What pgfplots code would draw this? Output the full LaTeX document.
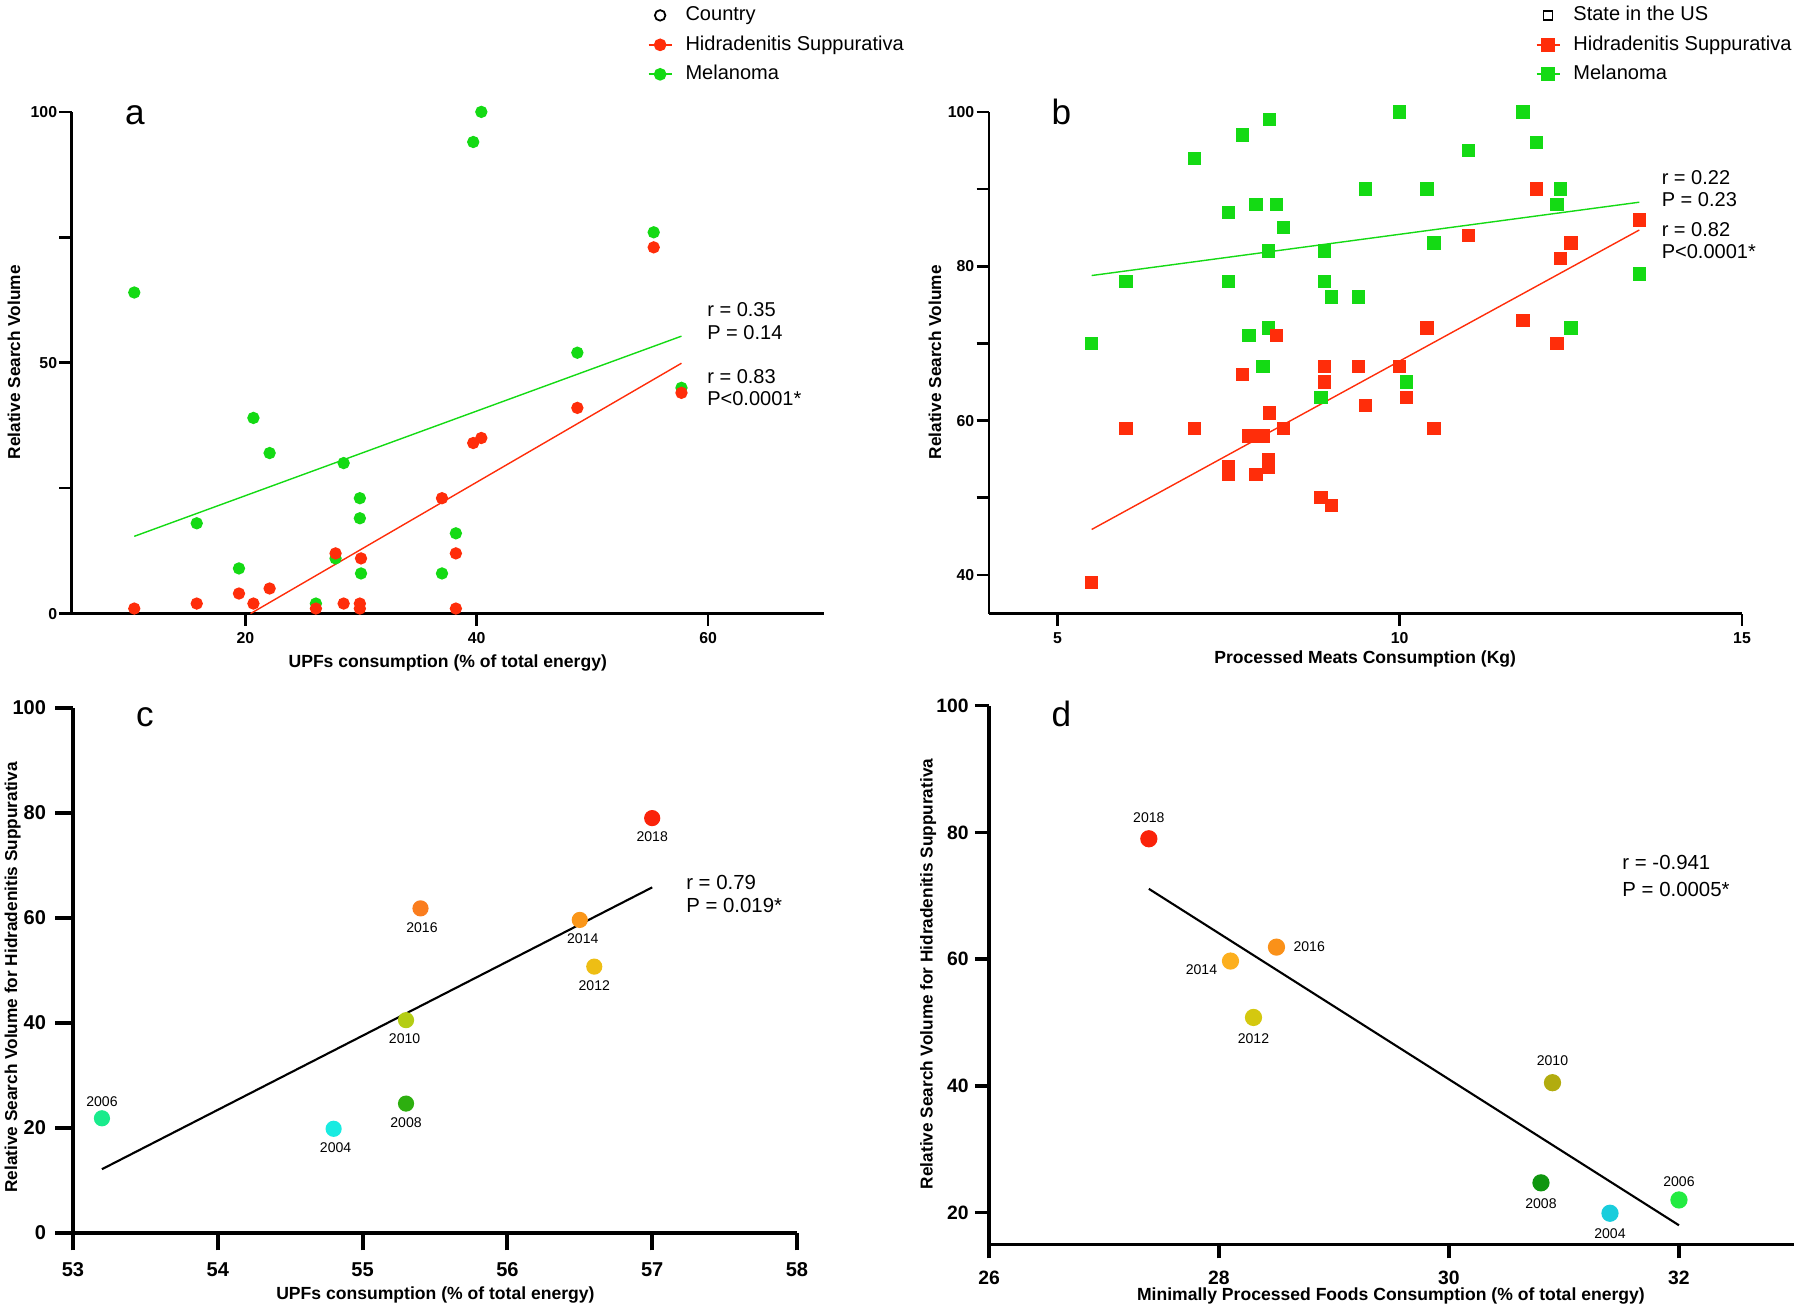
\documentclass[border=0pt]{standalone}
\usepackage{fontspec}
\setmainfont{Liberation Sans}
\usepackage{pgfplots}
\pgfplotsset{compat=1.18}

\definecolor{hsred}{RGB}{255,45,10}
\definecolor{melgreen}{RGB}{20,218,20}
% year colours, panel c
\definecolor{ca}{RGB}{250,35,10}
\definecolor{cb}{RGB}{250,125,30}
\definecolor{cc}{RGB}{250,150,25}
\definecolor{cd}{RGB}{238,190,20}
\definecolor{ce}{RGB}{180,205,20}
\definecolor{cf}{RGB}{45,175,15}
\definecolor{cg}{RGB}{25,235,140}
\definecolor{ch}{RGB}{25,235,225}
% year colours, panel d
\definecolor{da}{RGB}{250,35,10}
\definecolor{db}{RGB}{250,145,25}
\definecolor{dc}{RGB}{252,175,30}
\definecolor{dd}{RGB}{212,200,15}
\definecolor{de}{RGB}{178,172,15}
\definecolor{df}{RGB}{15,150,15}
\definecolor{dg}{RGB}{35,235,65}
\definecolor{dh}{RGB}{25,205,220}

\newcommand{\fs}[1]{\fontsize{#1}{#1}\selectfont}

\pgfplotsset{
  gp/.style={
    scale only axis, anchor=south west,
    axis lines=left, axis line style={-, line width=0.75pt},
    tick align=outside, major tick length=3.5pt,
    tick style={black, line width=0.75pt},
    ticklabel style={font=\fs{4.5}\bfseries},
    /pgf/number format/assume math mode=true,
    legend cell align=left,
    legend image code/.code={
      \draw[mark repeat=2, mark phase=2, #1]
        plot coordinates {(0cm,0cm) (0.115cm,0cm) (0.23cm,0cm)};
    },
  },
  gpbig/.style={gp,
    axis line style={-, line width=1.1pt},
    tick style={black, line width=1.1pt},
    ticklabel style={font=\fs{5.7}\bfseries},
  },
  leg/.style={
    legend style={at={(#1,1.2127)}, anchor=north west, draw=none, fill=none,
      inner sep=0pt, font=\fs{5.7}, row sep=0.105cm,
      nodes={inner sep=0pt, text height=4.2pt, text depth=1.2pt},
      /tikz/every odd column/.append style={column sep=0.13cm}},
  },
}

\begin{document}
\begin{tikzpicture}

% ---------------- a
\begin{axis}[gp, leg=0.765, at={(0.718cm,6.994cm)}, width=7.52cm, height=5.017cm,
  yticklabel style={xshift=0.1cm}, xticklabel style={yshift=0.055cm},
  xmin=5, xmax=70, ymin=0, ymax=100,
  xtick={20,40,60}, ytick={0,25,50,75,100}, yticklabels={0,,50,,100}]
  \addlegendimage{only marks, mark=o, mark size=1.5pt, black, line width=0.5pt}
  \addlegendentry{Country}
  \addlegendimage{hsred, mark=*, mark size=1.55pt, line width=0.5pt}
  \addlegendentry{Hidradenitis Suppurativa}
  \addlegendimage{melgreen, mark=*, mark size=1.55pt, line width=0.5pt}
  \addlegendentry{Melanoma}

  \addplot[melgreen, line width=0.4pt, forget plot] coordinates {(10.4,15.4) (57.7,55.3)};
  \addplot[hsred, line width=0.4pt, forget plot] coordinates {(20.45,0) (57.7,49.9)};

  \addplot[only marks, mark=*, mark size=1.55pt, melgreen, forget plot] coordinates {
    (10.4,64) (15.8,18) (19.45,9) (20.7,39) (22.1,32) (26.1,2) (27.8,11)
    (28.5,30) (29.9,23) (29.9,19) (30.0,8) (37.0,8) (38.2,16) (39.7,94)
    (40.4,100) (48.7,52) (55.3,76) (57.7,45)
  };
  \addplot[only marks, mark=*, mark size=1.55pt, hsred, forget plot] coordinates {
    (10.4,1) (15.8,2) (19.45,4) (20.7,2) (22.1,5) (26.1,1) (27.8,12)
    (28.5,2) (30.0,11) (29.9,2) (29.9,1) (37.0,23) (38.2,12) (38.2,1)
    (39.7,34) (40.4,35) (48.7,41) (55.3,73) (57.7,44)
  };
\end{axis}

% ---------------- b
\begin{axis}[gp, leg=0.725, at={(9.89cm,6.994cm)}, width=7.53cm, height=5.017cm,
  yticklabel style={xshift=0.1cm}, xticklabel style={yshift=0.055cm},
  xmin=4, xmax=15, ymin=35, ymax=100,
  xtick={5,10,15}, ytick={40,50,...,100}, yticklabels={40,,60,,80,,100}]
  \addlegendimage{only marks, mark=square, mark size=1.3pt, black, line width=0.5pt}
  \addlegendentry{State in the US}
  \addlegendimage{hsred, mark=square*, mark size=1.7pt, line width=0.5pt}
  \addlegendentry{Hidradenitis Suppurativa}
  \addlegendimage{melgreen, mark=square*, mark size=1.7pt, line width=0.5pt}
  \addlegendentry{Melanoma}

  \addplot[melgreen, line width=0.4pt, forget plot] coordinates {(5.5,78.8) (13.5,88.3)};
  \addplot[hsred, line width=0.4pt, forget plot] coordinates {(5.5,45.9) (13.5,84.7)};

  \addplot[only marks, mark=square*, mark size=1.7pt, melgreen, forget plot] coordinates {
    (5.5,70) (6.0,78) (7.0,94) (7.5,87) (7.5,78) (7.7,97) (7.8,71) (7.9,88)
    (8.0,67) (8.08,82) (8.08,72) (8.1,99) (8.2,88) (8.3,85) (8.85,63) (8.9,82)
    (8.9,78) (9.0,76) (9.4,76) (9.5,90) (10.0,100) (10.1,65) (10.4,90) (10.5,83)
    (11.0,95) (11.8,100) (12.0,96) (12.3,88) (12.35,90) (12.5,72) (13.5,79)
  };
  \addplot[only marks, mark=square*, mark size=1.7pt, hsred, forget plot] coordinates {
    (5.5,39) (6.0,59) (7.0,59) (7.5,54) (7.5,53) (7.7,66) (7.8,58) (7.9,53)
    (8.0,58) (8.08,55) (8.08,54) (8.1,61) (8.2,71) (8.3,59) (8.85,50) (8.9,67)
    (8.9,65) (9.0,49) (9.4,67) (9.5,62) (10.0,67) (10.1,63) (10.4,72) (10.5,59)
    (11.0,84) (11.8,73) (12.0,90) (12.3,70) (12.35,81) (12.5,83) (13.5,86)
  };
\end{axis}

% ---------------- c
\begin{axis}[gpbig, major tick length=5pt, at={(0.73cm,0.803cm)}, width=7.24cm, height=5.248cm,
  yticklabel style={xshift=0.03cm},
  xmin=53, xmax=58, ymin=0, ymax=100,
  xtick={53,...,58}, ytick={0,20,...,100}]
  \addplot[black, line width=0.6pt] coordinates {(53.2,12.1) (57.0,65.8)};
  \addplot[only marks, mark=*, mark size=2.1pt, ca] coordinates {(57.0,79.0)};
  \addplot[only marks, mark=*, mark size=2.1pt, cb] coordinates {(55.4,61.8)};
  \addplot[only marks, mark=*, mark size=2.1pt, cc] coordinates {(56.5,59.6)};
  \addplot[only marks, mark=*, mark size=2.1pt, cd] coordinates {(56.6,50.7)};
  \addplot[only marks, mark=*, mark size=2.1pt, ce] coordinates {(55.3,40.5)};
  \addplot[only marks, mark=*, mark size=2.1pt, cf] coordinates {(55.3,24.6)};
  \addplot[only marks, mark=*, mark size=2.1pt, cg] coordinates {(53.2,21.8)};
  \addplot[only marks, mark=*, mark size=2.1pt, ch] coordinates {(54.8,19.8)};
  \begin{scope}[every node/.style={font=\fs{4}}]
    \node[yshift=-0.19cm] at (axis cs:57.0,79.0) {2018};
    \node[yshift=-0.19cm] at (axis cs:55.41,61.8) {2016};
    \node[yshift=-0.19cm, xshift=0.03cm] at (axis cs:56.5,59.6) {2014};
    \node[yshift=-0.19cm] at (axis cs:56.6,50.7) {2012};
    \node[yshift=-0.19cm] at (axis cs:55.29,40.5) {2010};
    \node[yshift=-0.19cm] at (axis cs:55.3,24.6) {2008};
    \node[yshift=0.167cm] at (axis cs:53.2,21.8) {2006};
    \node[yshift=-0.187cm, xshift=0.02cm] at (axis cs:54.8,19.8) {2004};
  \end{scope}
\end{axis}

% ---------------- d
\begin{axis}[gpbig, axis line style={-, line width=0.95pt}, tick style={black, line width=0.95pt},
  major tick length=4pt, ticklabel style={font=\fs{5.5}\bfseries},
  yticklabel style={xshift=0.06cm},
  at={(9.89cm,0.687cm)}, width=8.05cm, height=5.386cm,
  xmin=26, xmax=33, ymin=15, ymax=100,
  xtick={26,28,30,32}, ytick={20,40,...,100}]
  \addplot[black, line width=0.6pt] coordinates {(27.39,71.1) (32.0,18.0)};
  \addplot[only marks, mark=*, mark size=2.25pt, da] coordinates {(27.39,79.0)};
  \addplot[only marks, mark=*, mark size=2.25pt, db] coordinates {(28.5,61.9)};
  \addplot[only marks, mark=*, mark size=2.25pt, dc] coordinates {(28.1,59.7)};
  \addplot[only marks, mark=*, mark size=2.25pt, dd] coordinates {(28.3,50.8)};
  \addplot[only marks, mark=*, mark size=2.25pt, de] coordinates {(30.9,40.5)};
  \addplot[only marks, mark=*, mark size=2.25pt, df] coordinates {(30.8,24.7)};
  \addplot[only marks, mark=*, mark size=2.25pt, dg] coordinates {(32.0,22.0)};
  \addplot[only marks, mark=*, mark size=2.25pt, dh] coordinates {(31.4,19.9)};
  \begin{scope}[every node/.style={font=\fs{4}}]
    \node[yshift=0.208cm] at (axis cs:27.39,79.0) {2018};
    \node[xshift=0.327cm] at (axis cs:28.5,61.9) {2016};
    \node[xshift=-0.29cm, yshift=-0.083cm] at (axis cs:28.1,59.7) {2014};
    \node[yshift=-0.208cm] at (axis cs:28.3,50.8) {2012};
    \node[yshift=0.217cm] at (axis cs:30.9,40.5) {2010};
    \node[yshift=-0.204cm] at (axis cs:30.8,24.7) {2008};
    \node[yshift=0.183cm] at (axis cs:32.0,22.0) {2006};
    \node[yshift=-0.208cm] at (axis cs:31.4,19.9) {2004};
  \end{scope}
\end{axis}

% ---------------- texts, in pixel units of the 1800 x 1313 figure
\begin{scope}[yshift=13.13cm, x=0.01cm, y=-0.01cm]
  \begin{scope}[every node/.style={anchor=west, inner sep=0pt, font=\fs{5.7}}]
    \node at (707,310) {r = 0.35};
    \node at (707,333) {P = 0.14};
    \node at (707,377) {r = 0.83};
    \node at (707,398.5) {P<0.0001*};
    \node at (1662,178) {r = 0.22};
    \node at (1662,200) {P = 0.23};
    \node at (1662,230) {r = 0.82};
    \node at (1662,251.5) {P<0.0001*};
  \end{scope}
  \begin{scope}[every node/.style={anchor=west, inner sep=0pt, font=\fs{5.8}}]
    \node at (686,883) {r = 0.79};
    \node at (686,906) {P = 0.019*};
    \node at (1622.7,863) {r = -0.941};
    \node at (1622.7,890) {P = 0.0005*};
  \end{scope}
  \begin{scope}[every node/.style={inner sep=0pt, font=\fs{10}}]
    \node at (135,115.5) {a};
    \node at (1062,111.7) {b};
    \node at (145,718) {c};
    \node at (1062,714) {d};
  \end{scope}
  \begin{scope}[every node/.style={inner sep=0pt, font=\fs{5}\bfseries}]
    \node at (448,663.5) {UPFs consumption (\% of total energy)};
    \node at (1366,659) {Processed Meats Consumption (Kg)};
    \node at (435.7,1296) {UPFs consumption (\% of total energy)};
    \node at (1391.7,1297) {Minimally Processed Foods Consumption (\% of total energy)};
  \end{scope}
  \begin{scope}[every node/.style={inner sep=0pt, rotate=90, font=\fs{4.9}\bfseries}]
    \node at (14,362.5) {Relative Search Volume};
    \node at (935.6,362.5) {Relative Search Volume};
    \node at (12.6,978) {Relative Search Volume for Hidradenitis Suppurativa};
    \node at (928.7,974.5) {Relative Search Volume for Hidradenitis Suppurativa};
  \end{scope}
\end{scope}

\pgfresetboundingbox
\path[use as bounding box] (0,0) rectangle (18,13.13);
\end{tikzpicture}
\end{document}
